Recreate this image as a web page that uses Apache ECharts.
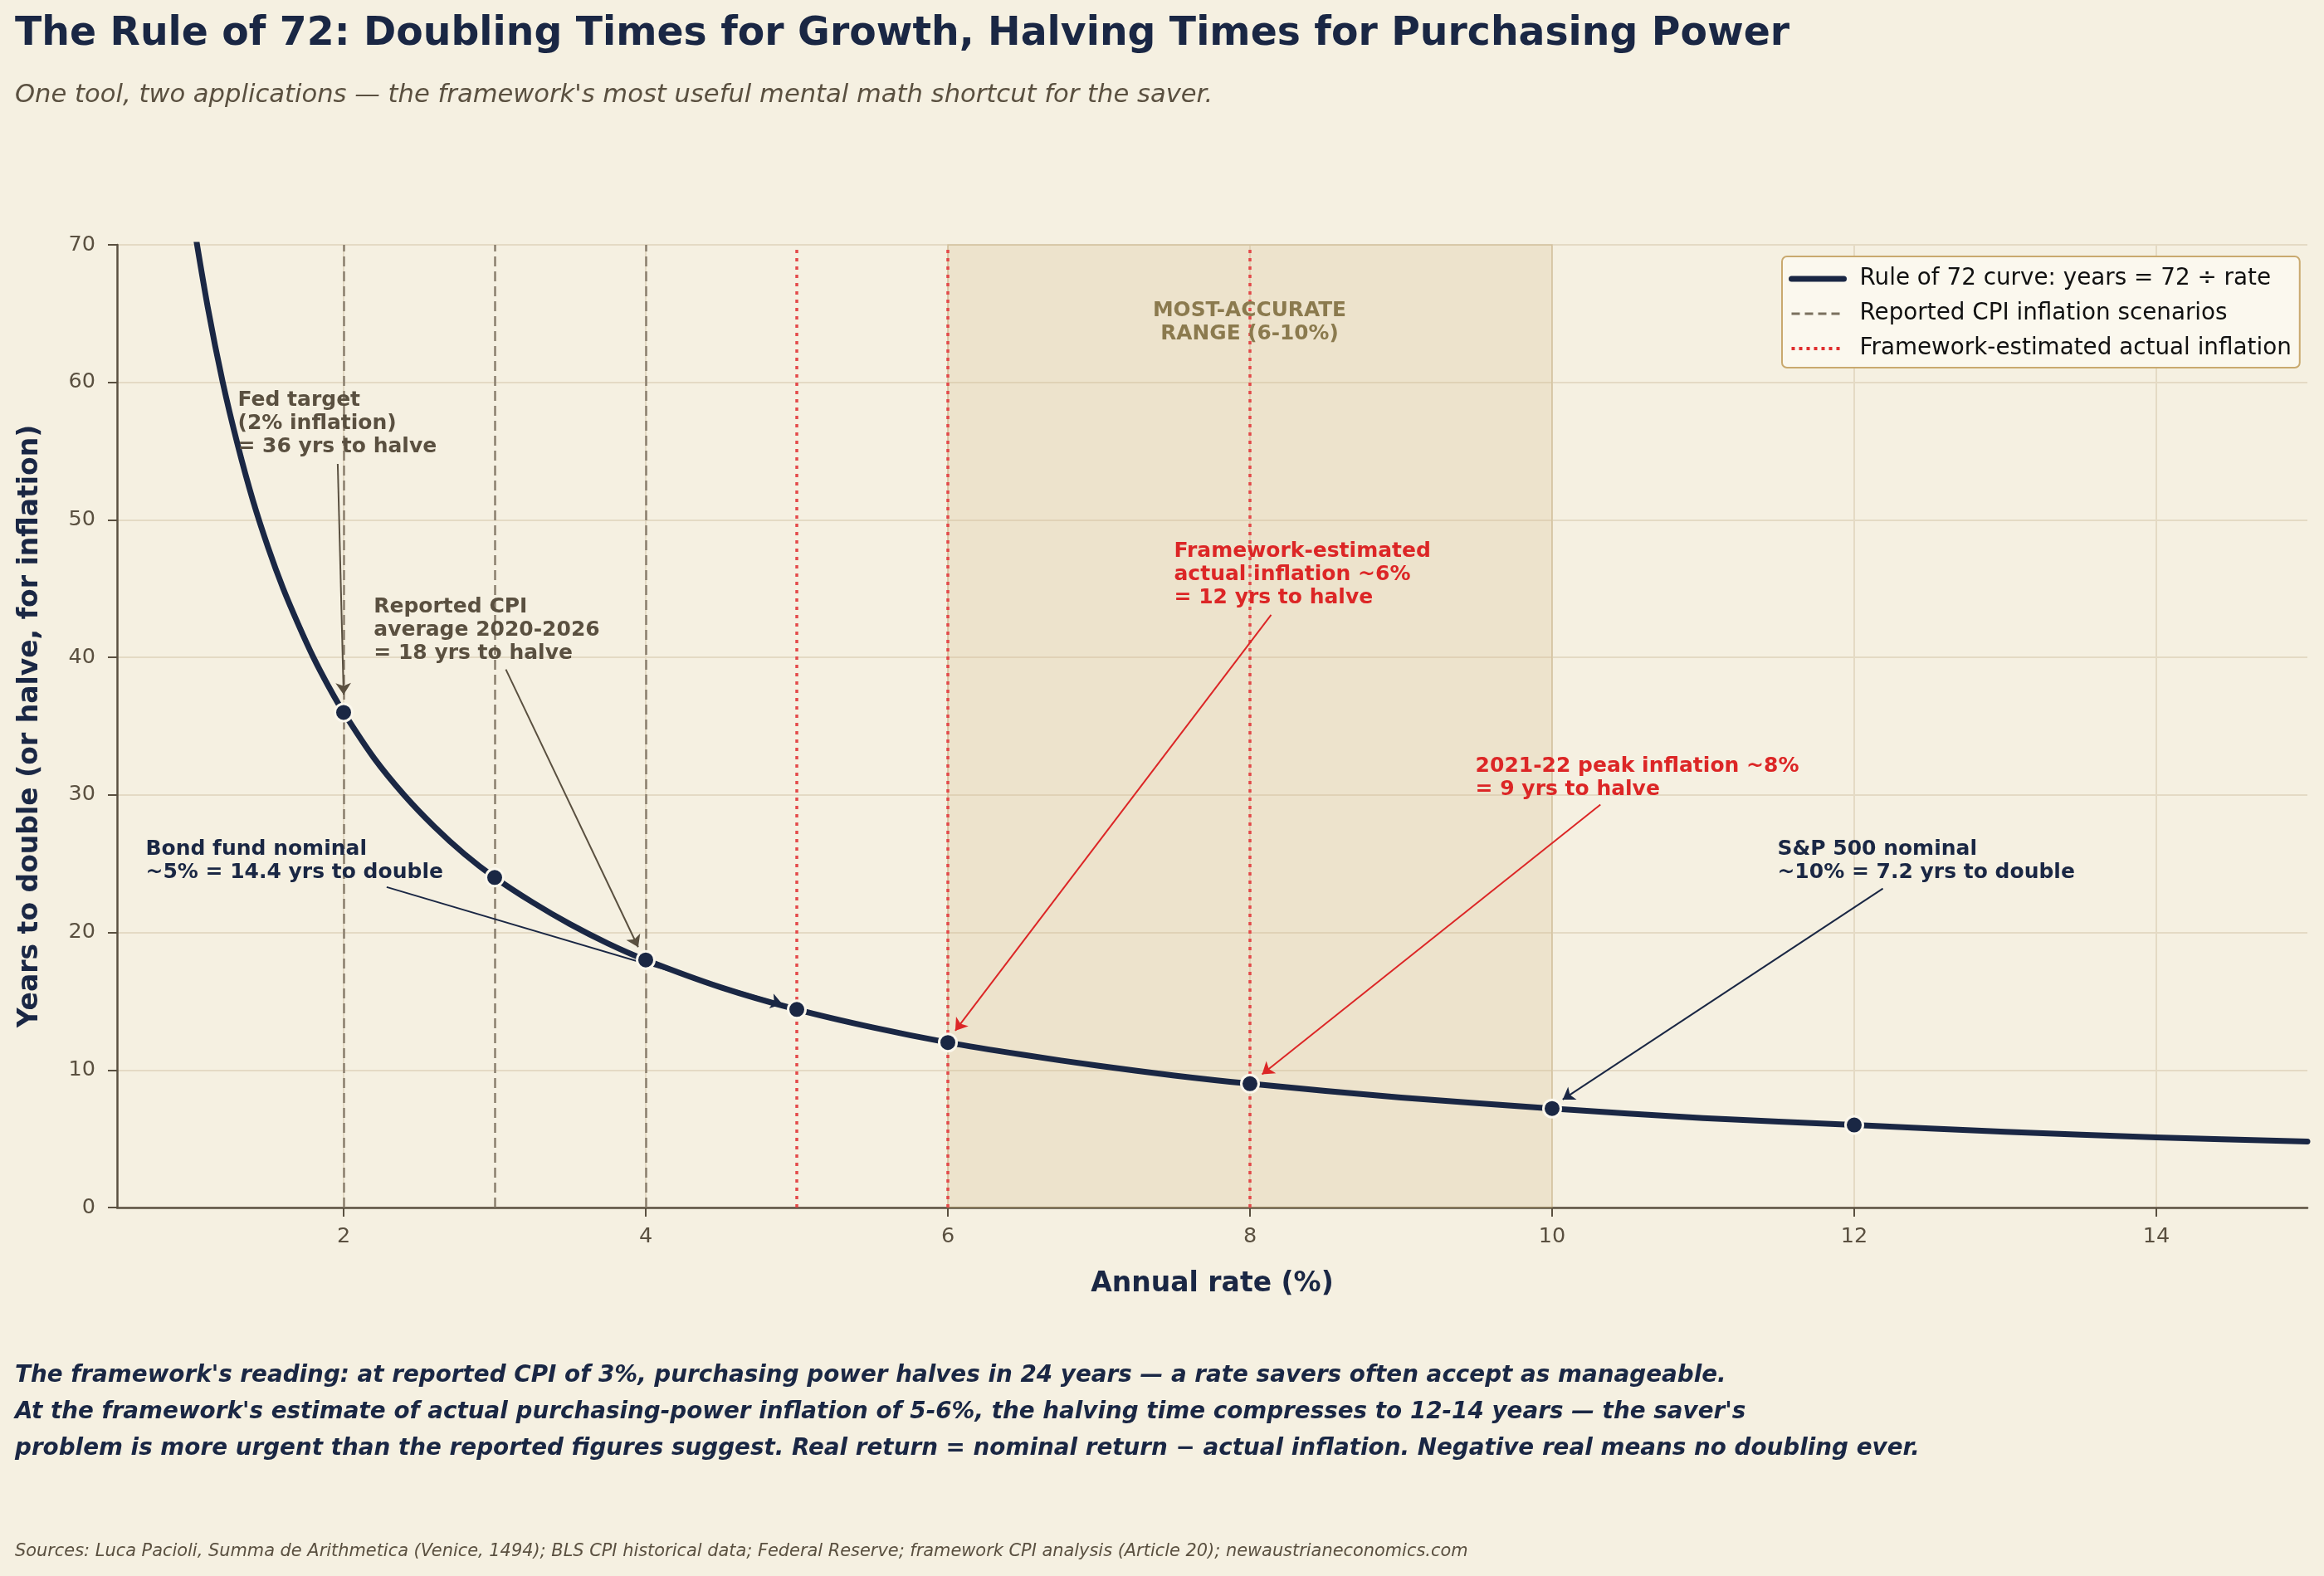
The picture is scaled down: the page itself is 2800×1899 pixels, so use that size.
<!DOCTYPE html>
<html><head><meta charset="utf-8">
<script src="https://cdn.jsdelivr.net/npm/echarts@6/dist/echarts.min.js"></script>
<style>html,body{margin:0;padding:0;background:#f5f0e1;} #c{width:2800px;height:1899px;}</style>
</head><body><div id="c"></div>
<script>
// ---- data ----
const curveRates = [1.0,1.1,1.2,1.3,1.4,1.5,1.6,1.7,1.8,1.9,2.0,2.2,2.4,2.6,2.8,3.0,3.25,3.5,3.75,4.0,4.5,5.0,5.5,6.0,6.5,7.0,7.5,8.0,9.0,10.0,11.0,12.0,13.0,14.0,15.0];
const curveYears = [72,65.5,60,55.4,51.4,48,45,42.4,40,37.9,36,32.7,30,27.7,25.7,24,22.2,20.6,19.2,18,16,14.4,13.1,12,11.1,10.3,9.6,9,8,7.2,6.5,6,5.5,5.1,4.8];
const markRates = [2,3,4,5,6,8,10,12];
const markYears = [36,24,18,14.4,12,9,7.2,6];
const cpiRates = [2,3,4];
const actualRates = [5,6,8];
const accurateRange = [6,10];
const xTickValues = [2,4,6,8,10,12,14];

const NAVY='#1a2744', BROWN='#5a5040', RED='#dc2626', GOLD='#8b7a4e', BG='#f5f0e1';
const FONT='DejaVu Sans';
const CURVE_NAME='Rule of 72 curve: years = 72 ÷ rate';
const CPI_NAME='Reported CPI inflation scenarios';
const ACT_NAME='Framework-estimated actual inflation';

// annotation layout (text anchor, arrow start, arrow end in data units)
const notes = [
 {text:'Fed target\n(2% inflation)\n= 36 yrs to halve', at:[1.302,59.47], color:BROWN, from:[1.961,54.07], to:[2.0,37.3]},
 {text:'Reported CPI\naverage 2020-2026\n= 18 yrs to halve', at:[2.202,44.48], color:BROWN, from:[3.074,39.13], to:[3.95,18.93]},
 {text:'Bond fund nominal\n~5% = 14.4 yrs to double', at:[0.692,26.86], color:NAVY, from:[2.285,23.3], to:[4.905,14.78]},
 {text:'Framework-estimated\nactual inflation ~6%\n= 12 yrs to halve', at:[7.50,48.52], color:RED, from:[8.14,43.1], to:[6.049,12.86]},
 {text:'2021-22 peak inflation ~8%\n= 9 yrs to halve', at:[9.495,32.89], color:RED, from:[10.32,29.3], to:[8.08,9.68]},
 {text:'S&P 500 nominal\n~10% = 7.2 yrs to double', at:[11.494,26.86], color:NAVY, from:[12.19,23.2], to:[10.07,7.85]}
];

const chart = echarts.init(document.getElementById('c'), null, {renderer:'canvas'});

const noteData = notes.map(n => ({
  value: n.at,
  label: {show:true, formatter:n.text, color:n.color, opacity:1, position:[0,0], align:'left', verticalAlign:'top',
          fontFamily:FONT, fontWeight:'bold', fontSize:25, lineHeight:28}
}));
noteData.push({
  value:[ (accurateRange[0]+accurateRange[1])/2, 64.35 ],
  label:{show:true, formatter:'MOST-ACCURATE\nRANGE (6-10%)', color:GOLD, opacity:1, position:[0,0], align:'center', verticalAlign:'middle',
         fontFamily:FONT, fontWeight:'bold', fontSize:24.8, lineHeight:28}
});

const arrowData = notes.map(n => [
  {coord:n.from, lineStyle:{color:n.color, width:2, type:'solid'}, itemStyle:{color:n.color}},
  {coord:n.to}
]);

const option = {
  backgroundColor: BG,
  animation:false,
  textStyle:{fontFamily:FONT},
  title:[
    {text:'The Rule of 72: Doubling Times for Growth, Halving Times for Purchasing Power', left:18, top:18, padding:0,
     textStyle:{fontFamily:FONT, fontWeight:'bold', fontSize:47.3, color:NAVY}},
    {text:"One tool, two applications — the framework's most useful mental math shortcut for the saver.", left:18, top:100, padding:0,
     textStyle:{fontFamily:FONT, fontStyle:'italic', fontWeight:'normal', fontSize:30.6, color:BROWN}},
    {text:"The framework's reading: at reported CPI of 3%, purchasing power halves in 24 years — a rate savers often accept as manageable.\nAt the framework's estimate of actual purchasing-power inflation of 5-6%, the halving time compresses to 12-14 years — the saver's\nproblem is more urgent than the reported figures suggest. Real return = nominal return − actual inflation. Negative real means no doubling ever.",
     left:18, top:1636, padding:0,
     textStyle:{fontFamily:FONT, fontStyle:'italic', fontWeight:'bold', fontSize:27.8, lineHeight:44, color:NAVY}},
    {text:'Sources: Luca Pacioli, Summa de Arithmetica (Venice, 1494); BLS CPI historical data; Federal Reserve; framework CPI analysis (Article 20); newaustrianeconomics.com',
     left:18, top:1859, padding:0,
     textStyle:{fontFamily:FONT, fontStyle:'italic', fontWeight:'normal', fontSize:20.9, color:BROWN}}
  ],
  legend:{
    orient:'vertical', left:2147, top:309,
    data:[
      {name:CURVE_NAME, lineStyle:{color:NAVY, width:7, type:'solid'}},
      {name:CPI_NAME, lineStyle:{color:'#7a705e', width:3, type:[10,6]}},
      {name:ACT_NAME, lineStyle:{color:'#e02e2e', width:4, type:[4,5]}}
    ],
    itemWidth:63, itemHeight:20, itemGap:14,
    itemStyle:{opacity:0},
    padding:[13,10,9,8],
    backgroundColor:'#fbf8ee', borderColor:'#c9a96e', borderWidth:2, borderRadius:6,
    textStyle:{fontFamily:FONT, fontSize:27.8, lineHeight:28, color:'#111111', padding:[0,0,0,14]},
    selectedMode:false
  },
  grid:{left:141, right:20, top:295, bottom:444, containLabel:false},
  xAxis:{
    type:'value', min:0.5, max:15,
    name:'Annual rate (%)', nameLocation:'middle', nameGap:76,
    nameTextStyle:{fontFamily:FONT, fontWeight:'bold', fontSize:33, color:NAVY},
    axisLine:{show:true, onZero:false, lineStyle:{color:BROWN, width:2.5}},
    axisTick:{show:true, length:11, inside:false, customValues:xTickValues, lineStyle:{color:BROWN, width:2}},
    axisLabel:{customValues:xTickValues, margin:22, fontFamily:FONT, fontSize:25.5, color:BROWN},
    splitLine:{show:true, lineStyle:{color:'#e4dac4', width:2}}
  },
  yAxis:{
    type:'value', min:0, max:70, interval:10,
    name:'Years to double (or halve, for inflation)', nameLocation:'middle', nameGap:88,
    nameTextStyle:{fontFamily:FONT, fontWeight:'bold', fontSize:33, color:NAVY},
    axisLine:{show:true, lineStyle:{color:BROWN, width:2.5}},
    axisTick:{show:true, length:11, lineStyle:{color:BROWN, width:2}},
    axisLabel:{margin:26, fontFamily:FONT, fontSize:25.5, color:BROWN},
    splitLine:{show:true, lineStyle:{color:'#e4dac4', width:2}}
  },
  series:[
    {
      name:'band', type:'line', data:[], silent:true, z:1,
      markArea:{silent:true, itemStyle:{color:'rgba(210,180,130,0.22)', borderColor:'rgba(190,160,110,0.35)', borderWidth:1.5},
        data:[[{xAxis:accurateRange[0]},{xAxis:accurateRange[1]}]]}
    },
    {
      name:CPI_NAME, type:'line', data:[], symbol:'none', silent:true, z:2,
      itemStyle:{color:'#8a7f6e'},
      lineStyle:{color:'#8a7f6e', width:2.5, type:[12,6]},
      markLine:{silent:true, symbol:['none','none'], label:{show:false},
        lineStyle:{color:'#8a7f6e', width:2.5, type:[12,6]},
        data:cpiRates.map(v=>({xAxis:v}))}
    },
    {
      name:ACT_NAME, type:'line', data:[], symbol:'none', silent:true, z:2,
      itemStyle:{color:'#e34a4a'},
      lineStyle:{color:'#e34a4a', width:3.5, type:[4,6]},
      markLine:{silent:true, symbol:['none','none'], label:{show:false},
        lineStyle:{color:'#e34a4a', width:3.5, type:[4,6]},
        data:actualRates.map(v=>({xAxis:v}))}
    },
    {
      name:'arrows', type:'line', data:[], symbol:'none', silent:true, z:3,
      markLine:{silent:true, symbol:['none','arrow'], symbolSize:14, label:{show:false},
        data:arrowData}
    },
    {
      name:CURVE_NAME, type:'line', smooth:0.3, symbol:'none', silent:true, z:4,
      data:curveRates.map((r,i)=>[r,curveYears[i]]),
      itemStyle:{color:NAVY},
      lineStyle:{color:NAVY, width:7, cap:'round', join:'round'}
    },
    {
      name:'points', type:'scatter', silent:true, z:6,
      data:markRates.map((r,i)=>[r,markYears[i]]),
      symbol:'circle', symbolSize:21,
      itemStyle:{color:NAVY, borderColor:'#fbf7ec', borderWidth:3, opacity:1}
    },
    {
      name:'notes', type:'scatter', silent:true, z:7,
      symbol:'circle', symbolSize:1, itemStyle:{color:'rgba(0,0,0,0)', opacity:1},
      data:noteData
    }
  ]
};
chart.setOption(option);
</script></body></html>
